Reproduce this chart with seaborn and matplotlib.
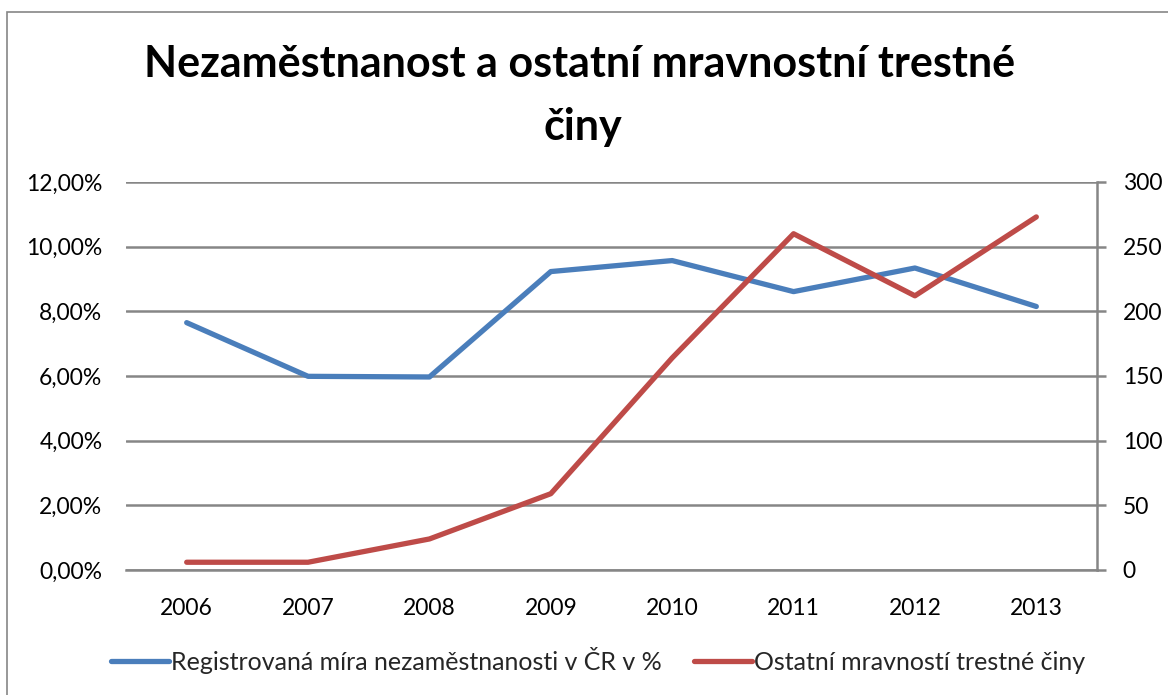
import pandas as pd
import seaborn as sns
import matplotlib.pyplot as plt
from matplotlib.ticker import FuncFormatter
from matplotlib.patches import Rectangle
from matplotlib.lines import Line2D

# data
years = [2006, 2007, 2008, 2009, 2010, 2011, 2012, 2013]
unemployment = [7.65, 5.99, 5.97, 9.23, 9.57, 8.61, 9.34, 8.15]  # % (left axis)
crimes = [6, 6, 24, 59, 164, 260, 212, 273]  # count (right axis)

blue_label = "Registrovaná míra nezaměstnanosti v ČR v %"
red_label = "Ostatní mravností trestné činy"
title_lines = ["Nezaměstnanost a ostatní mravnostní trestné", "činy"]

sns.set_style("white")
plt.rcParams['font.family'] = ['Lato', 'DejaVu Sans']

blue = "#4A7EBB"
red = "#BE4B48"
grid = "#868686"
lw = 3.8

df = pd.DataFrame({"rok": [str(y) for y in years], "nezam": unemployment, "tc": crimes})

fig = plt.figure(figsize=(11.68, 6.95), dpi=100)
ax = fig.add_axes([126 / 1168, 1 - 570 / 695, (1097 - 126) / 1168, (570 - 182) / 695])

sns.lineplot(data=df, x="rok", y="nezam", ax=ax, color=blue, linewidth=lw,
             sort=False, solid_capstyle="round")
ax.set_ylim(0, 12)
ax.set_xlim(-0.5, len(years) - 0.5)
ax.set_yticks(range(0, 13, 2))
ax.yaxis.set_major_formatter(FuncFormatter(lambda v, p: f"{v:.2f}".replace(".", ",") + "%"))
ax.grid(axis="y", color=grid, linewidth=1.8)
ax.set_axisbelow(True)
ax.set_xlabel("")
ax.set_ylabel("")
for s in ["top", "left", "right"]:
    ax.spines[s].set_visible(False)
ax.spines["bottom"].set_color(grid)
ax.spines["bottom"].set_linewidth(1.8)
ax.tick_params(axis="y", length=0, pad=17, labelsize=16.5, colors="black")
ax.tick_params(axis="x", length=0, pad=20, labelsize=16.5, colors="black")

ax2 = ax.twinx()
sns.lineplot(data=df, x="rok", y="tc", ax=ax2, color=red, linewidth=lw,
             sort=False, solid_capstyle="round")
ax2.set_ylim(0, 300)
ax2.set_yticks(range(0, 301, 50))
ax2.set_ylabel("")
for s in ["top", "left", "bottom"]:
    ax2.spines[s].set_visible(False)
ax2.spines["right"].set_color(grid)
ax2.spines["right"].set_linewidth(1.8)
ax2.tick_params(axis="y", direction="out", length=6.5, width=1.8, pad=12,
                labelsize=16.5, labelcolor="black", color=grid)

fig.text(580 / 1168, 1 - 77 / 695, title_lines[0], ha="center", va="baseline",
         fontsize=31, fontweight="bold", color="black")
fig.text(583 / 1168, 1 - 140 / 695, title_lines[1], ha="center", va="baseline",
         fontsize=31, fontweight="bold", color="black")

handles = [Line2D([], [], color=blue, linewidth=lw), Line2D([], [], color=red, linewidth=lw)]
fig.legend(handles, [blue_label, red_label], loc="center", bbox_to_anchor=(0.512, 1 - 660 / 695),
           ncol=2, frameon=False, fontsize=18, handlelength=2.3, handletextpad=0.08,
           columnspacing=1.3)

fig.patches.append(Rectangle((7 / 1168, -0.05), 1.1, 1 - 12 / 695 + 0.05, transform=fig.transFigure,
                             fill=False, edgecolor=grid, linewidth=1.2))

fig.savefig("out.png", dpi=100)
